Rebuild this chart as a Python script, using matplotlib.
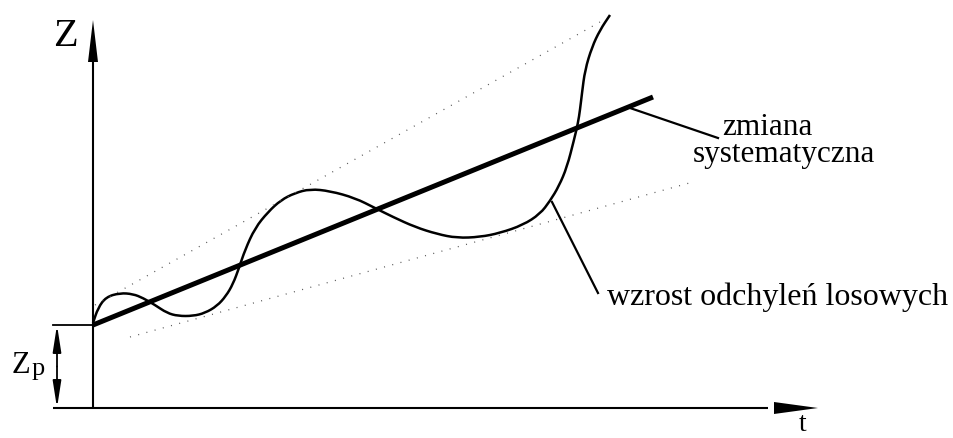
import numpy as np
import matplotlib as mpl
mpl.use("Agg")
from matplotlib import pyplot as plt
from matplotlib.path import Path
from matplotlib.patches import PathPatch

plt.rcParams['font.family'] = ['Liberation Serif', 'DejaVu Serif']

# origin of the t/Z axes sits at (0, 0); Zp is the initial value
z_p = 83
t_end = 725
z_top = 388

# systematic change (thick straight line)
trend_t = [0, 560]
trend_z = [83, 311]

# envelope of random deviations (dotted)
upper_t = [2, 507]
upper_z = [103, 386]
lower_t = [37, 600]
lower_z = [71, 226]

# observed value wandering round the trend
wave_t = [0, 5, 13, 27, 40, 50, 62, 74, 85, 100, 112, 124, 133, 140, 146,
          152, 162, 175, 188, 202, 217, 237, 262, 282, 300, 322, 344, 364, 387,
          407, 430, 447, 457, 466, 474, 481, 485, 487, 489, 492, 499, 507, 517]
wave_z = [85, 100, 111, 115, 114, 110, 103, 95, 92, 92, 95, 102, 112, 124, 140,
          158, 180, 196, 208, 215, 219, 217, 210, 200, 191, 181, 174, 170, 171,
          175, 183, 194, 207, 222, 241, 268, 285, 298, 315, 338, 361, 378, 393]

fig = plt.figure(figsize=(9.54, 4.38), dpi=100)
ax = fig.add_axes([0, 0, 1, 1])
ax.set_xlim(-93, 861)
ax.set_ylim(-30, 408)
ax.axis('off')

# axes with long narrow arrowheads
ax.plot([0, 0], [0, z_top - 40], color='black', lw=1.5, solid_capstyle='butt')
ax.fill([-5, 5, 0], [z_top - 42, z_top - 42, z_top], color='black', lw=0)
ax.plot([-40, t_end - 50], [0, 0], color='black', lw=1.5, solid_capstyle='butt')
ax.fill([t_end - 44, t_end - 44, t_end], [6, -6, 0], color='black', lw=0)

# Zp marker
ax.plot([-40, 0], [z_p, z_p], color='black', lw=1.3)
for end in (z_p, 0):
    ax.annotate('', xy=(-36, end), xytext=(-36, z_p / 2),
                arrowprops=dict(arrowstyle='-|>,head_length=1.6,head_width=0.25',
                                color='black', lw=1.3, shrinkA=0, shrinkB=0))

ax.plot(upper_t, upper_z, color='#555555', lw=0.9, linestyle=(0, (0.8, 6)))
ax.plot(lower_t, lower_z, color='#555555', lw=0.9, linestyle=(0, (0.8, 6)))

# smooth the wave: quadratic segments between midpoints of the read points
pts = np.column_stack([wave_t, wave_z]).astype(float)
mids = (pts[1:] + pts[:-1]) / 2
verts = [pts[0], mids[0]]
codes = [Path.MOVETO, Path.LINETO]
for i in range(1, len(pts) - 1):
    verts += [pts[i], mids[i]]
    codes += [Path.CURVE3, Path.CURVE3]
verts.append(pts[-1])
codes.append(Path.LINETO)
ax.add_patch(PathPatch(Path(verts, codes), facecolor='none', edgecolor='black',
                       lw=1.8, joinstyle='round'))

ax.plot(trend_t, trend_z, color='black', lw=3.6, solid_capstyle='butt')

# leader lines to the captions
ax.plot([537, 625], [300, 270], color='black', lw=1.6)
ax.plot([459, 505], [206, 115], color='black', lw=1.6)

ax.text(-28, 371, 'Z', fontsize=29, ha='center', va='center')
ax.text(710, -29, 't', fontsize=20, ha='center', va='bottom')
ax.text(-81, 35, 'Z', fontsize=22, ha='left', va='baseline')
ax.text(-61, 33, 'p', fontsize=19, ha='left', va='baseline')
ax.text(629, 273, 'zmiana', fontsize=22.5, ha='left', va='baseline')
ax.text(600, 246, 'systematyczna', fontsize=22.5, ha='left', va='baseline')
ax.text(514, 103, 'wzrost odchyleń losowych', fontsize=23, ha='left', va='baseline')

fig.savefig('out.png', dpi=100)
